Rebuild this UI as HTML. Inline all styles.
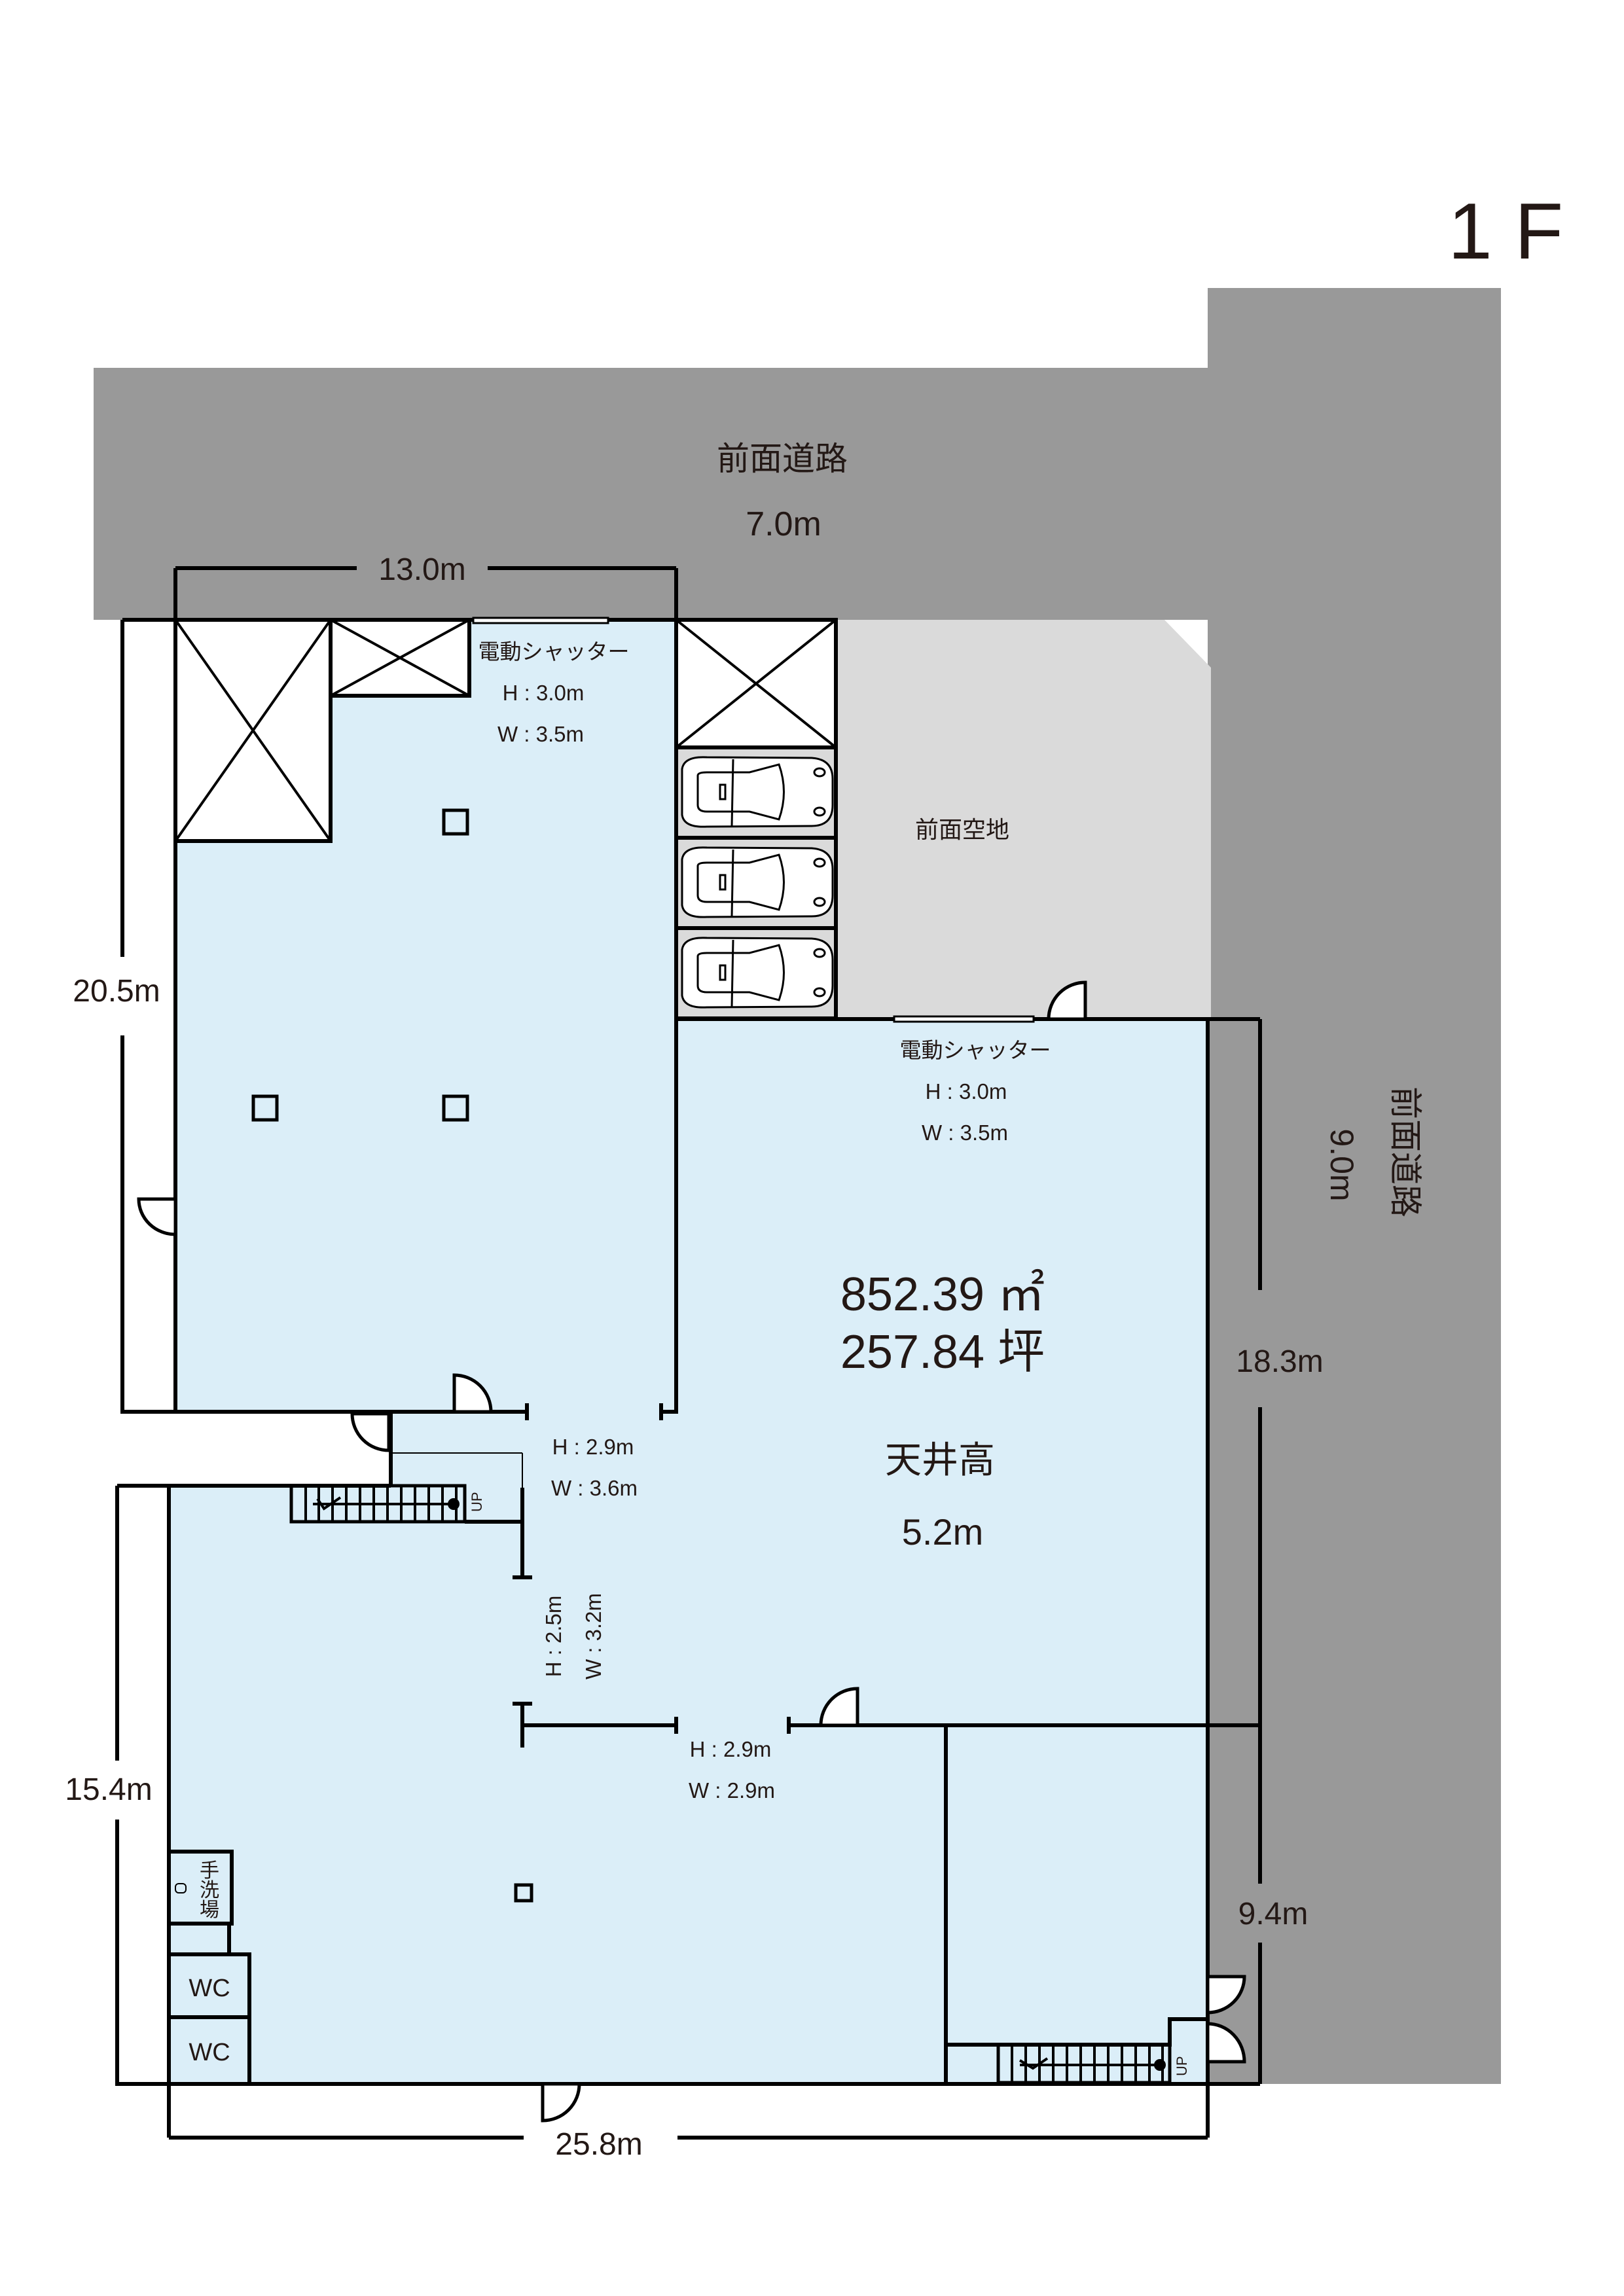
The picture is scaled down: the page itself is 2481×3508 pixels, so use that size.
<!DOCTYPE html>
<html><head><meta charset="utf-8"><style>
html,body{margin:0;padding:0;background:#fff}
svg{display:block}
text{font-family:"Liberation Sans","Noto Sans CJK JP",sans-serif;fill:#231815}
</style></head><body>
<svg width="2481" height="3508" viewBox="0 0 2481 3508" xmlns="http://www.w3.org/2000/svg">
<rect x="143" y="562" width="2150" height="385" fill="#999"/>
<rect x="1845" y="440" width="448" height="2744" fill="#999"/>
<polygon points="1277,947 1779,947 1850,1020 1850,1557 1277,1557" fill="#dadada"/>
<rect x="268" y="947" width="765" height="1210" fill="#dbeef8"/>
<rect x="1033" y="1557" width="812" height="1627" fill="#dbeef8"/>
<rect x="597" y="2157" width="436" height="113" fill="#dbeef8"/>
<rect x="258" y="2270" width="800" height="914" fill="#dbeef8"/>
<g fill="#fff" stroke="#000" stroke-width="6">
<rect x="268" y="947" width="237" height="338"/>
<rect x="505" y="947" width="212" height="116"/>
<rect x="1033" y="947" width="244" height="195"/>
</g>
<g stroke="#000" stroke-width="4">
<line x1="268" y1="947" x2="505" y2="1285"/><line x1="505" y1="947" x2="268" y2="1285"/>
<line x1="505" y1="947" x2="717" y2="1063"/><line x1="717" y1="947" x2="505" y2="1063"/>
<line x1="1033" y1="947" x2="1277" y2="1142"/><line x1="1277" y1="947" x2="1033" y2="1142"/>
</g>
<g>
<rect x="1033" y="1142" width="244" height="138" fill="#dadada" stroke="#000" stroke-width="6"/>
<rect x="1033" y="1280" width="244" height="138" fill="#dadada" stroke="#000" stroke-width="6"/>
<rect x="1033" y="1418" width="244" height="138" fill="#dadada" stroke="#000" stroke-width="6"/>
</g>
<g id="car" fill="#fff" stroke="#000" stroke-width="3">
<path d="M1042,1175 Q1045,1155 1080,1157 L1240,1158 Q1272,1160 1272,1190 L1272,1230 Q1272,1262 1240,1262 L1080,1263 Q1045,1265 1042,1245 Z"/>
<path d="M1066,1185 Q1066,1180 1080,1180 L1145,1180 L1190,1168 Q1205,1210 1190,1252 L1145,1240 L1080,1240 Q1066,1240 1066,1230 Z" fill="none"/>
<rect x="1100" y="1199" width="8" height="22"/>
<line x1="1120" y1="1160" x2="1118" y2="1262"/>
<ellipse cx="1252" cy="1180" rx="8" ry="6"/><ellipse cx="1252" cy="1240" rx="8" ry="6"/>
</g>
<use href="#car" y="138"/>
<use href="#car" y="276"/>
<g fill="none" stroke="#000" stroke-width="6">
<polyline points="187,947 268,947 1033,947 1277,947 1277,1557"/>
<polyline points="187,947 187,2157 268,2157 268,947"/>
<polyline points="268,2157 805,2157"/>
<line x1="805" y1="2144" x2="805" y2="2170"/>
<polyline points="1010,2157 1033,2157 1033,947"/>
<line x1="1010" y1="2144" x2="1010" y2="2170"/>
<polyline points="1033,1557 1845,1557 1925,1557"/>
<polyline points="597,2157 597,2270"/>
<polyline points="179,2270 258,2270 597,2270"/>
<polyline points="179,2270 179,3184 258,3184 258,2270"/>
<polyline points="258,3184 1925,3184"/>
<line x1="1845" y1="1557" x2="1845" y2="3184"/>
<polyline points="710,2325 798,2325"/>
<line x1="798" y1="2273" x2="798" y2="2410"/>
<line x1="783" y1="2410" x2="813" y2="2410"/>
<line x1="798" y1="2603" x2="798" y2="2670"/>
<line x1="783" y1="2603" x2="813" y2="2603"/>
<line x1="798" y1="2636" x2="1033" y2="2636"/>
<line x1="1033" y1="2623" x2="1033" y2="2649"/>
<line x1="1205" y1="2623" x2="1205" y2="2649"/>
<line x1="1205" y1="2636" x2="1925" y2="2636"/>
<line x1="1445" y1="2636" x2="1445" y2="3184"/>
<polyline points="1445,3124 1787,3124 1787,3085 1845,3085"/>
<rect x="258" y="2829" width="96" height="110"/>
<rect x="258" y="2939" width="92" height="47"/>
<rect x="258" y="2986" width="123" height="96"/>
<rect x="258" y="3082" width="123" height="102"/>
<line x1="268" y1="868" x2="268" y2="947"/><line x1="1033" y1="868" x2="1033" y2="947"/>
<line x1="268" y1="868" x2="545" y2="868"/><line x1="745" y1="868" x2="1033" y2="868"/>
<line x1="1925" y1="1557" x2="1925" y2="1971"/><line x1="1925" y1="2150" x2="1925" y2="2878"/><line x1="1925" y1="2968" x2="1925" y2="3184"/>
<line x1="258" y1="3184" x2="258" y2="3266"/><line x1="1845" y1="3184" x2="1845" y2="3266"/>
<line x1="258" y1="3266" x2="800" y2="3266"/><line x1="1035" y1="3266" x2="1845" y2="3266"/>
</g>
<rect x="170" y="1462" width="40" height="120" fill="#fff"/>
<rect x="160" y="2690" width="40" height="90" fill="#fff"/>
<line x1="597" y1="2220" x2="798" y2="2220" stroke="#000" stroke-width="2"/>
<line x1="798" y1="2220" x2="798" y2="2273" stroke="#000" stroke-width="2"/>
<rect x="723" y="944" width="206" height="8" fill="#fff" stroke="#000" stroke-width="3"/>
<rect x="1366" y="1553" width="213" height="8" fill="#fff" stroke="#000" stroke-width="3"/>
<g fill="none" stroke="#000" stroke-width="5">
<rect x="678" y="1238" width="36" height="36"/>
<rect x="387" y="1675" width="36" height="36"/>
<rect x="678" y="1675" width="36" height="36"/>
<rect x="788" y="2880" width="24" height="24"/>
</g>
<g fill="#fff" stroke="#000" stroke-width="5">
<path d="M268,1886 L268,1832 L212,1832 A56,54 0 0 0 268,1886 Z"/>
<path d="M694,2157 L694,2101 A56,56 0 0 1 750,2157 Z"/>
<path d="M594,2160 L594,2216 A56,56 0 0 1 538,2160 Z"/>
<path d="M1658,1557 L1658,1501 A56,56 0 0 0 1602,1557 Z"/>
<path d="M1310,2636 L1310,2580 A56,56 0 0 0 1254,2636 Z"/>
<path d="M829,3184 L829,3240 A56,56 0 0 0 885,3184 Z"/>
<path d="M1845,3020 L1901,3020 A56,55 0 0 1 1845,3075 Z"/>
<path d="M1845,3150 L1901,3150 A56,58 0 0 0 1845,3092 Z"/>
</g>
<g stroke="#000" fill="none">
<rect x="445" y="2270" width="265" height="55" stroke-width="5"/>
<path d="M467,2270v55M487,2270v55M508,2270v55M529,2270v55M550,2270v55M571,2270v55M592,2270v55M613,2270v55M634,2270v55M655,2270v55M676,2270v55M697,2270v55" stroke-width="4"/>
<line x1="478" y1="2298" x2="693" y2="2298" stroke-width="4"/>
<polyline points="485,2290 495,2305 520,2288" stroke-width="4"/>
<rect x="1525" y="3124" width="262" height="58" stroke-width="5"/>
<path d="M1546,3124v58M1567,3124v58M1588,3124v58M1609,3124v58M1630,3124v58M1651,3124v58M1672,3124v58M1693,3124v58M1714,3124v58M1735,3124v58M1756,3124v58M1776,3124v58" stroke-width="4"/>
<line x1="1558" y1="3155" x2="1770" y2="3155" stroke-width="4"/>
<polyline points="1558,3148 1578,3160 1600,3145" stroke-width="4"/>
</g>
<circle cx="693" cy="2298" r="9"/>
<circle cx="1772" cy="3155" r="9"/>
<text transform="translate(736,2310) rotate(-90)" font-size="22">UP</text>
<text transform="translate(1813,3172) rotate(-90)" font-size="22">UP</text>
<text x="2212" y="395" font-size="122">1 F</text>
<text x="1195" y="718" font-size="50" text-anchor="middle">前面道路</text>
<text x="1197" y="818" font-size="52" text-anchor="middle">7.0m</text>
<text x="645" y="886" font-size="48" text-anchor="middle">13.0m</text>
<text x="1470" y="1280" font-size="36" text-anchor="middle">前面空地</text>
<text x="846" y="1007" font-size="33" text-anchor="middle">電動シャッター</text>
<text x="830" y="1070" font-size="33" text-anchor="middle">H : 3.0m</text>
<text x="826" y="1133" font-size="33" text-anchor="middle">W : 3.5m</text>
<text x="1490" y="1616" font-size="33" text-anchor="middle">電動シャッター</text>
<text x="1476" y="1679" font-size="33" text-anchor="middle">H : 3.0m</text>
<text x="1474" y="1742" font-size="33" text-anchor="middle">W : 3.5m</text>
<text x="178" y="1530" font-size="48" text-anchor="middle">20.5m</text>
<text x="166" y="2750" font-size="48" text-anchor="middle">15.4m</text>
<text x="915" y="3292" font-size="48" text-anchor="middle">25.8m</text>
<text x="1955" y="2096" font-size="48" text-anchor="middle">18.3m</text>
<text x="1945" y="2940" font-size="48" text-anchor="middle">9.4m</text>
<text x="1440" y="2002" font-size="72" text-anchor="middle">852.39 ㎡</text>
<text x="1440" y="2090" font-size="72" text-anchor="middle">257.84 坪</text>
<text x="1436" y="2250" font-size="56" text-anchor="middle">天井高</text>
<text x="1440" y="2360" font-size="56" text-anchor="middle">5.2m</text>
<text x="906" y="2222" font-size="33" text-anchor="middle">H : 2.9m</text>
<text x="908" y="2285" font-size="33" text-anchor="middle">W : 3.6m</text>
<text x="1116" y="2684" font-size="33" text-anchor="middle">H : 2.9m</text>
<text x="1118" y="2747" font-size="33" text-anchor="middle">W : 2.9m</text>
<text transform="translate(857,2500) rotate(-90)" font-size="33" text-anchor="middle">H : 2.5m</text>
<text transform="translate(918,2500) rotate(-90)" font-size="33" text-anchor="middle">W : 3.2m</text>
<text transform="translate(2033,1780) rotate(90)" font-size="50" text-anchor="middle">9.0m</text>
<text transform="translate(2130,1760) rotate(90)" font-size="50" text-anchor="middle">前面道路</text>
<text x="320" y="3050" font-size="38" text-anchor="middle">WC</text>
<text x="320" y="3148" font-size="38" text-anchor="middle">WC</text>
<text x="320" y="2868" font-size="30" text-anchor="middle">手</text>
<text x="320" y="2898" font-size="30" text-anchor="middle">洗</text>
<text x="320" y="2928" font-size="30" text-anchor="middle">場</text>
<rect x="268" y="2878" width="16" height="14" fill="none" stroke="#000" stroke-width="2" rx="5"/>
</svg>
</body></html>
